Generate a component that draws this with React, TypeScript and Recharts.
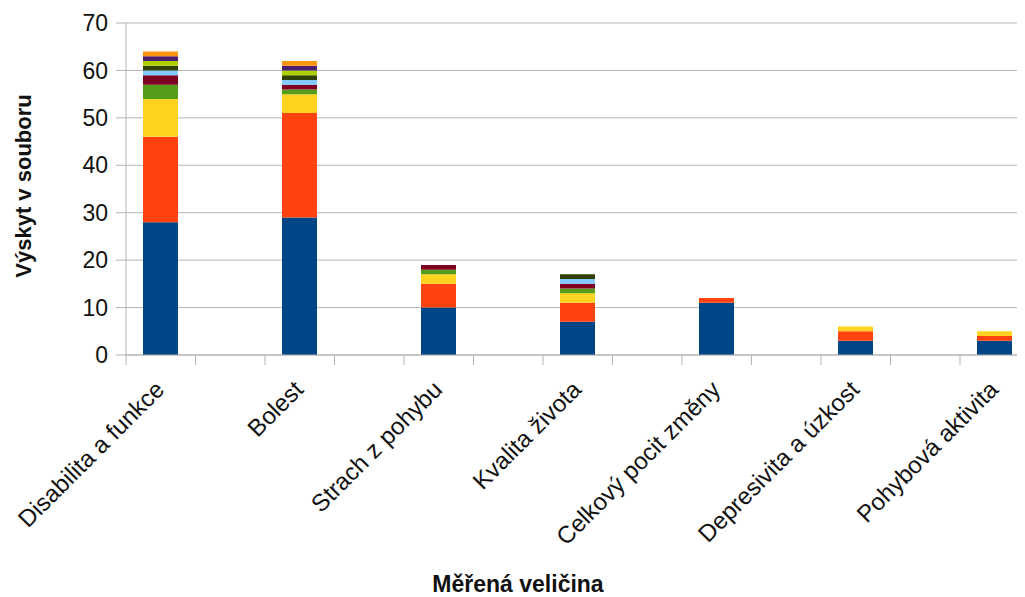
import { BarChart, Bar, XAxis, YAxis, CartesianGrid } from "recharts";

const categories = [
  "Disabilita a funkce",
  "Bolest",
  "Strach z pohybu",
  "Kvalita života",
  "Celkový pocit změny",
  "Depresivita a úzkost",
  "Pohybová aktivita",
];

// one array per stacked series, values in category order
const series1 = [28, 29, 10, 7, 11, 3, 3];
const series2 = [18, 22, 5, 4, 1, 2, 1];
const series3 = [8, 4, 2, 2, 0, 1, 1];
const series4 = [3, 1, 1, 1, 0, 0, 0];
const series5 = [2, 1, 1, 1, 0, 0, 0];
const series6 = [1, 1, 0, 1, 0, 0, 0];
const series7 = [1, 1, 0, 1, 0, 0, 0];
const series8 = [1, 1, 0, 0, 0, 0, 0];
const series9 = [1, 1, 0, 0, 0, 0, 0];
const series10 = [1, 1, 0, 0, 0, 0, 0];

const yTicks = [0, 10, 20, 30, 40, 50, 60, 70];

const SERIES = [series1, series2, series3, series4, series5, series6, series7, series8, series9, series10];
const COLORS = ["#004586", "#ff420e", "#ffd320", "#579d1c", "#7e0021", "#83caff", "#314004", "#aecf00", "#4b1f6f", "#ff950e"];

const GRID = "#b3b3b3";
const FONT = "'Liberation Sans', Arial, sans-serif";
const BAND = 69.5; // width of one category slot

// every category is followed by an empty slot, which gives the wide gaps between bars
const rows = categories.flatMap((label, i) => {
  const row: Record<string, string | number> = { key: `c${i}`, label };
  SERIES.forEach((s, j) => { row[`s${j}`] = s[i]; });
  return [row, { key: `gap${i}`, label: "" }];
});

function CategoryTick({ x, y, payload }: any) {
  const label = rows[payload.index]?.label as string;
  const tx = x + 5;
  const ty = y + 36;
  return (
    <g>
      <line x1={x - BAND / 2} x2={x - BAND / 2} y1={y} y2={y + 10} stroke={GRID} />
      {label ? (
        <text x={tx} y={ty} transform={`rotate(-45 ${tx} ${ty})`} textAnchor="end"
          fontFamily={FONT} fontSize={24} fill="#111">
          {label}
        </text>
      ) : null}
    </g>
  );
}

export default function App() {
  return (
    <div style={{ position: "relative", width: 1017, height: 589, overflow: "hidden", fontFamily: FONT }}>
      <BarChart width={1100} height={589} data={rows} margin={{ top: 15, right: 9, left: 0, bottom: 0 }}>
        <CartesianGrid vertical={false} stroke={GRID} />
        <XAxis dataKey="key" height={242} interval={0} tickLine={false} tickSize={0} tickMargin={0}
          stroke={GRID} tick={<CategoryTick />} />
        <YAxis width={118} domain={[0, 70]} ticks={yTicks} tickSize={10} tickMargin={8} stroke={GRID}
          tick={{ fill: "#111", fontSize: 23, fontFamily: FONT }} />
        {SERIES.map((_, j) => (
          <Bar key={j} dataKey={`s${j}`} stackId="a" fill={COLORS[j]} barSize={35} isAnimationActive={false} />
        ))}
      </BarChart>
      <div style={{
        position: "absolute", left: 16, top: 178, transform: "translate(-50%, -50%) rotate(-90deg)",
        whiteSpace: "nowrap", fontWeight: "bold", fontSize: 22, lineHeight: 1, color: "#111",
      }}>
        Výskyt v souboru
      </div>
      <div style={{
        position: "absolute", left: 510, top: 565, transform: "translateX(-50%)",
        whiteSpace: "nowrap", fontWeight: "bold", fontSize: 23, lineHeight: 1, color: "#111",
      }}>
        Měřená veličina
      </div>
    </div>
  );
}
